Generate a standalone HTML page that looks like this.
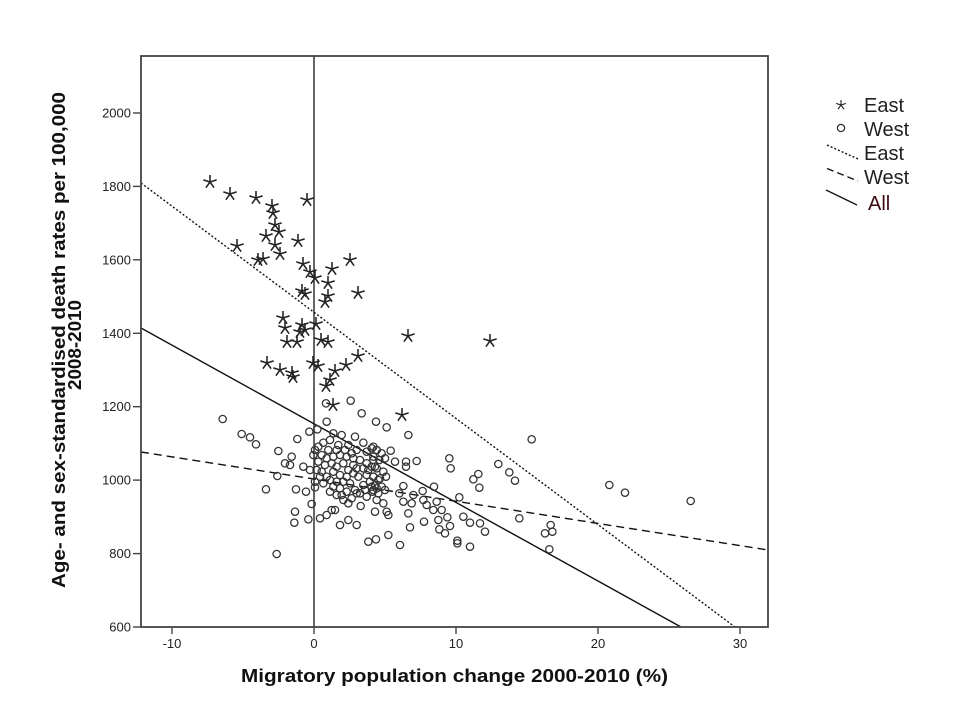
<!DOCTYPE html>
<html><head><meta charset="utf-8"><style>
html,body{margin:0;padding:0;background:#fff;}
svg{display:block;}
text{font-family:"Liberation Sans",Arial,sans-serif;}
</style></head><body>
<svg width="968" height="725" viewBox="0 0 968 725" xmlns="http://www.w3.org/2000/svg">
<defs>
<path id="s" d="M0,0V-7M0,0L6.66,-2.16M0,0L-6.66,-2.16M0,0L4.11,5.66M0,0L-4.11,5.66" fill="none" stroke="#222" stroke-width="1.55"/>
</defs>
<rect width="968" height="725" fill="#fff"/>
<!-- vertical zero line -->
<line x1="314" y1="56" x2="314" y2="627" stroke="#333" stroke-width="1.5"/>
<!-- regression lines -->
<line x1="141" y1="328" x2="681" y2="627" stroke="#111" stroke-width="1.4"/>
<line x1="141" y1="183" x2="735" y2="627" stroke="#111" stroke-width="1.4" stroke-dasharray="2,2"/>
<line x1="141" y1="452" x2="768" y2="550" stroke="#111" stroke-width="1.4" stroke-dasharray="8,5"/>

<!-- West circles -->
<g fill="none" stroke="#333" stroke-width="3.8" transform="translate(200,400) scale(0.33333)">
<circle cx="68" cy="57" r="11"/><circle cx="125" cy="102" r="11"/><circle cx="150" cy="112" r="11"/><circle cx="168" cy="133" r="11"/><circle cx="235" cy="153" r="11"/><circle cx="292" cy="117" r="11"/><circle cx="328" cy="95" r="11"/><circle cx="352" cy="88" r="11"/><circle cx="380" cy="65" r="11"/><circle cx="378" cy="10" r="11"/><circle cx="452" cy="2" r="11"/><circle cx="485" cy="40" r="11"/><circle cx="528" cy="65" r="11"/><circle cx="275" cy="170" r="11"/><circle cx="255" cy="190" r="11"/><circle cx="270" cy="195" r="11"/><circle cx="232" cy="228" r="11"/><circle cx="198" cy="268" r="11"/><circle cx="288" cy="268" r="11"/><circle cx="318" cy="275" r="11"/><circle cx="345" cy="262" r="11"/><circle cx="335" cy="312" r="11"/><circle cx="285" cy="335" r="11"/><circle cx="283" cy="368" r="11"/><circle cx="325" cy="358" r="11"/><circle cx="360" cy="355" r="11"/><circle cx="230" cy="462" r="11"/><circle cx="505" cy="425" r="11"/><circle cx="528" cy="418" r="11"/><circle cx="525" cy="335" r="11"/><circle cx="482" cy="318" r="11"/><circle cx="470" cy="280" r="11"/><circle cx="420" cy="375" r="11"/><circle cx="445" cy="360" r="11"/><circle cx="470" cy="375" r="11"/><circle cx="395" cy="330" r="11"/>
<circle cx="370" cy="128" r="11"/><circle cx="400" cy="100" r="11"/><circle cx="425" cy="105" r="11"/><circle cx="465" cy="110" r="11"/><circle cx="490" cy="128" r="11"/><circle cx="520" cy="140" r="11"/><circle cx="415" cy="135" r="11"/><circle cx="445" cy="135" r="11"/><circle cx="470" cy="150" r="11"/><circle cx="500" cy="155" r="11"/><circle cx="530" cy="150" r="11"/><circle cx="355" cy="140" r="11"/><circle cx="385" cy="150" r="11"/><circle cx="340" cy="165" r="11"/><circle cx="355" cy="185" r="11"/><circle cx="380" cy="175" r="11"/><circle cx="400" cy="170" r="11"/><circle cx="420" cy="165" r="11"/><circle cx="440" cy="170" r="11"/><circle cx="460" cy="175" r="11"/><circle cx="480" cy="180" r="11"/><circle cx="500" cy="190" r="11"/><circle cx="520" cy="180" r="11"/><circle cx="395" cy="190" r="11"/><circle cx="430" cy="190" r="11"/><circle cx="460" cy="195" r="11"/><circle cx="490" cy="205" r="11"/><circle cx="525" cy="200" r="11"/><circle cx="310" cy="200" r="11"/><circle cx="330" cy="210" r="11"/><circle cx="350" cy="210" r="11"/><circle cx="365" cy="215" r="11"/><circle cx="380" cy="230" r="11"/><circle cx="400" cy="215" r="11"/><circle cx="420" cy="225" r="11"/><circle cx="440" cy="230" r="11"/><circle cx="460" cy="220" r="11"/><circle cx="475" cy="230" r="11"/><circle cx="500" cy="225" r="11"/><circle cx="520" cy="230" r="11"/><circle cx="535" cy="240" r="11"/><circle cx="345" cy="245" r="11"/><circle cx="370" cy="250" r="11"/><circle cx="410" cy="245" r="11"/><circle cx="450" cy="250" r="11"/><circle cx="490" cy="255" r="11"/><circle cx="515" cy="260" r="11"/><circle cx="530" cy="265" r="11"/><circle cx="400" cy="260" r="11"/><circle cx="420" cy="265" r="11"/><circle cx="440" cy="275" r="11"/><circle cx="465" cy="270" r="11"/><circle cx="480" cy="280" r="11"/><circle cx="500" cy="290" r="11"/><circle cx="520" cy="270" r="11"/><circle cx="410" cy="285" r="11"/><circle cx="430" cy="300" r="11"/><circle cx="455" cy="295" r="11"/><circle cx="405" cy="330" r="11"/><circle cx="380" cy="345" r="11"/>
<circle cx="345" cy="150" r="11"/><circle cx="365" cy="165" r="11"/><circle cx="390" cy="120" r="11"/><circle cx="410" cy="150" r="11"/><circle cx="435" cy="150" r="11"/><circle cx="455" cy="160" r="11"/><circle cx="375" cy="195" r="11"/><circle cx="410" cy="200" r="11"/><circle cx="445" cy="210" r="11"/><circle cx="470" cy="205" r="11"/><circle cx="390" cy="240" r="11"/><circle cx="430" cy="245" r="11"/><circle cx="505" cy="210" r="11"/><circle cx="360" cy="230" r="11"/><circle cx="425" cy="285" r="11"/><circle cx="390" cy="275" r="11"/><circle cx="445" cy="310" r="11"/><circle cx="495" cy="270" r="11"/><circle cx="510" cy="245" r="11"/>
</g>
<g fill="none" stroke="#333" stroke-width="3.8" transform="translate(370,410) scale(0.33333)">
<circle cx="50" cy="52" r="11"/><circle cx="115" cy="75" r="11"/><circle cx="485" cy="88" r="11"/><circle cx="238" cy="145" r="11"/><circle cx="242" cy="175" r="11"/><circle cx="385" cy="162" r="11"/><circle cx="418" cy="187" r="11"/><circle cx="435" cy="212" r="11"/><circle cx="325" cy="192" r="11"/><circle cx="310" cy="208" r="11"/><circle cx="328" cy="233" r="11"/><circle cx="140" cy="153" r="11"/><circle cx="108" cy="155" r="11"/><circle cx="75" cy="155" r="11"/><circle cx="62" cy="122" r="11"/><circle cx="108" cy="170" r="11"/><circle cx="192" cy="230" r="11"/><circle cx="158" cy="243" r="11"/><circle cx="268" cy="262" r="11"/><circle cx="100" cy="228" r="11"/><circle cx="88" cy="250" r="11"/><circle cx="130" cy="255" r="11"/><circle cx="160" cy="270" r="11"/><circle cx="200" cy="275" r="11"/><circle cx="170" cy="285" r="11"/><circle cx="100" cy="275" r="11"/><circle cx="125" cy="280" r="11"/><circle cx="190" cy="300" r="11"/><circle cx="215" cy="300" r="11"/><circle cx="280" cy="320" r="11"/><circle cx="232" cy="322" r="11"/><circle cx="205" cy="330" r="11"/><circle cx="162" cy="335" r="11"/><circle cx="115" cy="310" r="11"/><circle cx="300" cy="338" r="11"/><circle cx="330" cy="340" r="11"/><circle cx="345" cy="365" r="11"/><circle cx="240" cy="348" r="11"/><circle cx="208" cy="358" r="11"/><circle cx="225" cy="370" r="11"/><circle cx="120" cy="352" r="11"/><circle cx="50" cy="305" r="11"/><circle cx="55" cy="315" r="11"/><circle cx="55" cy="375" r="11"/><circle cx="90" cy="405" r="11"/><circle cx="262" cy="392" r="11"/><circle cx="262" cy="400" r="11"/><circle cx="300" cy="410" r="11"/><circle cx="448" cy="325" r="11"/>
<circle cx="5" cy="115" r="11"/><circle cx="20" cy="120" r="11"/><circle cx="35" cy="130" r="11"/><circle cx="10" cy="140" r="11"/><circle cx="28" cy="150" r="11"/><circle cx="45" cy="145" r="11"/><circle cx="5" cy="170" r="11"/><circle cx="20" cy="175" r="11"/><circle cx="40" cy="185" r="11"/><circle cx="10" cy="200" r="11"/><circle cx="30" cy="205" r="11"/><circle cx="48" cy="200" r="11"/><circle cx="15" cy="225" r="11"/><circle cx="35" cy="230" r="11"/><circle cx="8" cy="245" r="11"/><circle cx="25" cy="250" r="11"/><circle cx="45" cy="240" r="11"/><circle cx="20" cy="270" r="11"/><circle cx="40" cy="280" r="11"/>
</g>
<g fill="none" stroke="#333" stroke-width="3.8" transform="translate(520,420) scale(0.33333)">
<circle cx="268" cy="195" r="11"/><circle cx="315" cy="218" r="11"/><circle cx="512" cy="243" r="11"/><circle cx="92" cy="315" r="11"/><circle cx="75" cy="340" r="11"/><circle cx="97" cy="335" r="11"/><circle cx="88" cy="388" r="11"/>
</g>

<!-- East stars -->
<g>
<use href="#s" x="210" y="182"/><use href="#s" x="230" y="194"/><use href="#s" x="256" y="198"/><use href="#s" x="272" y="206"/><use href="#s" x="273" y="213"/><use href="#s" x="307" y="200"/><use href="#s" x="275" y="225"/><use href="#s" x="279" y="232"/><use href="#s" x="266" y="236"/><use href="#s" x="275" y="245"/><use href="#s" x="237" y="246"/><use href="#s" x="298" y="241"/><use href="#s" x="280" y="254"/><use href="#s" x="258" y="260"/><use href="#s" x="263" y="259"/><use href="#s" x="303" y="264"/><use href="#s" x="350" y="260"/><use href="#s" x="332" y="269"/><use href="#s" x="310" y="272"/><use href="#s" x="315" y="278"/><use href="#s" x="328" y="283"/><use href="#s" x="358" y="293"/><use href="#s" x="302" y="291"/><use href="#s" x="305" y="294"/><use href="#s" x="328" y="296"/><use href="#s" x="325" y="302"/>
<use href="#s" x="283" y="318"/><use href="#s" x="285" y="328"/><use href="#s" x="302" y="325"/><use href="#s" x="316" y="324"/><use href="#s" x="300" y="332"/><use href="#s" x="305" y="330"/><use href="#s" x="287" y="342"/><use href="#s" x="297" y="342"/><use href="#s" x="321" y="340"/><use href="#s" x="328" y="342"/><use href="#s" x="408" y="336"/><use href="#s" x="358" y="356"/><use href="#s" x="267" y="363"/><use href="#s" x="280" y="370"/><use href="#s" x="292" y="373"/><use href="#s" x="293" y="377"/><use href="#s" x="313" y="363"/><use href="#s" x="318" y="366"/><use href="#s" x="335" y="371"/><use href="#s" x="346" y="365"/><use href="#s" x="330" y="380"/><use href="#s" x="326" y="386"/><use href="#s" x="333" y="405"/><use href="#s" x="402" y="415"/><use href="#s" x="490" y="341"/>
</g>

<!-- frame -->
<rect x="141" y="56" width="627" height="571" fill="none" stroke="#444" stroke-width="1.8"/>

<!-- ticks -->
<g stroke="#444" stroke-width="1.4">
<line x1="133" y1="113" x2="141" y2="113"/><line x1="133" y1="186.4" x2="141" y2="186.4"/><line x1="133" y1="259.8" x2="141" y2="259.8"/><line x1="133" y1="333.3" x2="141" y2="333.3"/><line x1="133" y1="406.7" x2="141" y2="406.7"/><line x1="133" y1="480.1" x2="141" y2="480.1"/><line x1="133" y1="553.6" x2="141" y2="553.6"/><line x1="133" y1="627" x2="141" y2="627"/>
<line x1="172" y1="627" x2="172" y2="634"/><line x1="314" y1="627" x2="314" y2="634"/><line x1="456" y1="627" x2="456" y2="634"/><line x1="598" y1="627" x2="598" y2="634"/><line x1="740" y1="627" x2="740" y2="634"/>
</g>
<g font-size="13" fill="#222" text-anchor="end">
<text x="131" y="117.5">2000</text><text x="131" y="190.9">1800</text><text x="131" y="264.3">1600</text><text x="131" y="337.8">1400</text><text x="131" y="411.2">1200</text><text x="131" y="484.6">1000</text><text x="131" y="558.1">800</text><text x="131" y="631.5">600</text>
</g>
<g font-size="13" fill="#222" text-anchor="middle">
<text x="172" y="648">-10</text><text x="314" y="648">0</text><text x="456" y="648">10</text><text x="598" y="648">20</text><text x="740" y="648">30</text>
</g>

<!-- axis titles -->
<text x="241" y="682" font-size="18" font-weight="bold" fill="#111" textLength="427" lengthAdjust="spacingAndGlyphs">Migratory population change 2000-2010 (%)</text>
<text transform="translate(65,340) rotate(-90)" text-anchor="middle" font-size="18" font-weight="bold" fill="#111" textLength="496" lengthAdjust="spacingAndGlyphs">Age- and sex-standardised death rates per 100,000</text>
<text transform="translate(81,345) rotate(-90)" text-anchor="middle" font-size="18" font-weight="bold" fill="#111" textLength="90" lengthAdjust="spacingAndGlyphs">2008-2010</text>

<!-- legend -->
<g transform="translate(841,105) scale(0.72)"><use href="#s" x="0" y="0"/></g>
<circle cx="841" cy="128" r="3.6" fill="none" stroke="#333" stroke-width="1.3"/>
<line x1="827" y1="145" x2="858" y2="159" stroke="#111" stroke-width="1.4" stroke-dasharray="2,2"/>
<line x1="827" y1="168.5" x2="858" y2="181" stroke="#111" stroke-width="1.4" stroke-dasharray="7,4"/>
<line x1="826" y1="190" x2="857" y2="205" stroke="#111" stroke-width="1.3"/>
<g font-size="20" fill="#222">
<text x="864" y="112">East</text>
<text x="864" y="136">West</text>
<text x="864" y="160">East</text>
<text x="864" y="184">West</text>
<text x="868" y="210" fill="#3a0a10">All</text>
</g>
</svg>
</body></html>
